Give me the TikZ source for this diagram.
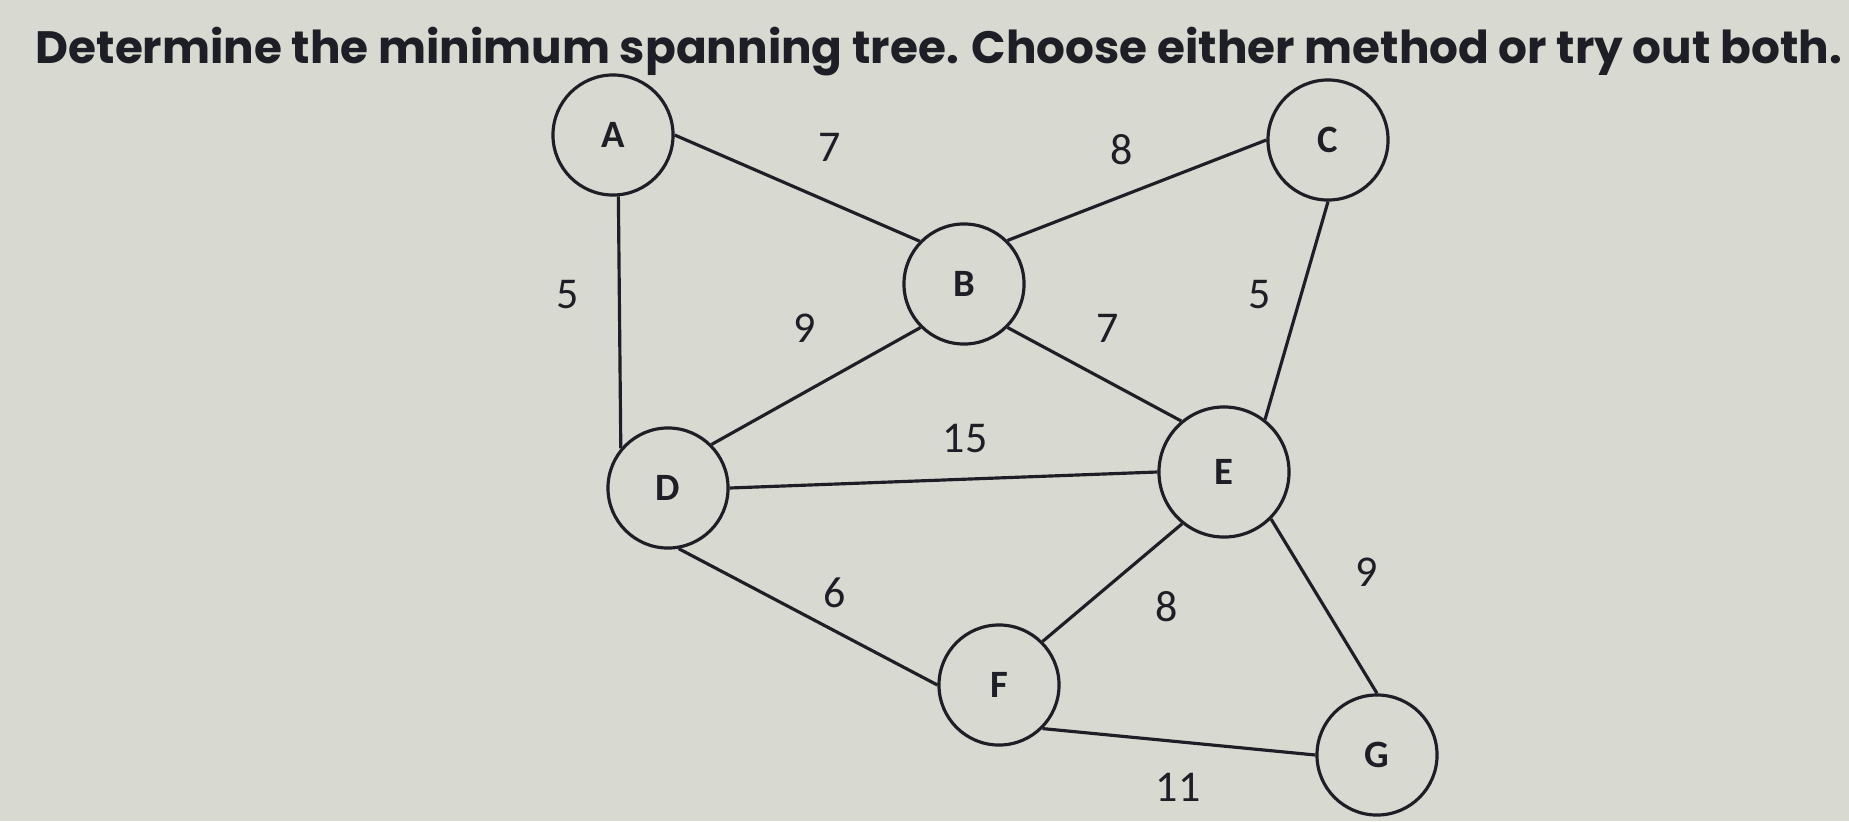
\documentclass[tikz,border=0pt]{standalone}
\usepackage{fontspec}
\setmainfont{Carlito}
\newfontfamily\titre{Poppins}
\usepackage{tikz}
\definecolor{fond}{RGB}{216,217,208}
\definecolor{trait}{RGB}{30,30,38}
\newcommand{\sommet}[3]{\node[sommet,#3] (#1) at (#2) {#1}}
\newcommand{\arete}[2]{\draw[trait, line width=0.9pt] (#1) -- (#2)}
\newcommand{\poids}[3]{\node[poids] (#1) at (#2) {#3}}
\tikzset{
  sommet/.style={circle, draw=trait, line width=0.9pt, minimum size=1.2cm,
    inner sep=0pt, font=\bfseries\fontsize{11pt}{11pt}\selectfont, text=trait},
  poids/.style={inner sep=0pt, font=\fontsize{12.5pt}{12.5pt}\selectfont, text=trait}
}

\begin{document}
\begin{tikzpicture}[x=0.01cm, y=-0.01cm]
%Background
	\fill[fond] (0,0) rectangle (1849,821);
	\useasboundingbox (0,0) rectangle (1849,821);
%Title
	\node[anchor=base west, inner sep=0pt, text=trait] (titre) at (35,64)
		{\resizebox{18.05cm}{!}{\titre\bfseries Determine the minimum spanning tree. Choose either method or try out both.}};
%Vertices
	\sommet{A}{613,135}{};
	\sommet{C}{1328,140}{};
	\sommet{B}{964,284}{};
	\sommet{D}{668,488}{};
	\sommet{E}{1224,472}{minimum size=1.3cm};
	\sommet{F}{999,685}{};
	\sommet{G}{1377,755}{};
%Edges
	\arete{A.east}{B.136};
	\arete{B.north east}{C.west};
	\arete{C.south}{E.52};
	\arete{B.south east}{E.130};
	\arete{B.south west}{D.north east};
	\arete{A.-85}{D.140};
	\arete{D.east}{E.west};
	\arete{D.-80}{F.west};
	\arete{F.north east}{E.231};
	\arete{E.south east}{G.north};
	\arete{F.south east}{G.west};
%Weights
	\poids{ab}{830,147}{7};
	\poids{bc}{1122,150}{8};
	\poids{ad}{568,295}{5};
	\poids{bd}{805,328}{9};
	\poids{be}{1108,328}{7};
	\poids{ce}{1260,295}{5};
	\poids{de}{965,438}{15};
	\poids{df}{835,593}{6};
	\poids{ef}{1167,607}{8};
	\poids{eg}{1367,572}{9};
	\poids{fg}{1178,787}{11};
\end{tikzpicture}
\end{document}
